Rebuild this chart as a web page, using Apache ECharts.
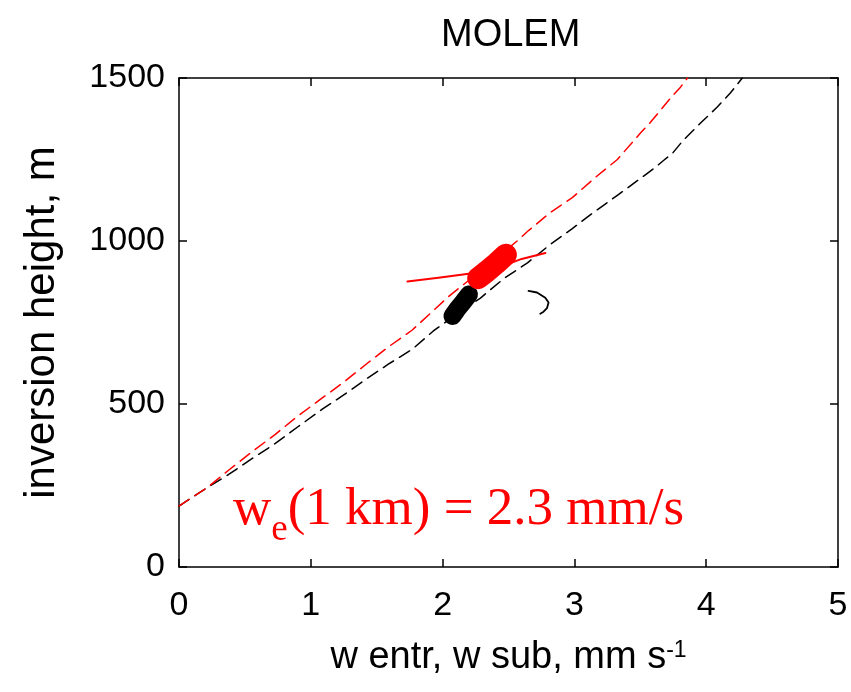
<!DOCTYPE html>
<html><head><meta charset="utf-8">
<script src="https://cdn.jsdelivr.net/npm/echarts@6/dist/echarts.min.js"></script>
<style>html,body{margin:0;padding:0;background:#fff}#c{width:851px;height:692px}</style>
</head><body><div id="c"></div>
<script>
const titleText = 'MOLEM';
const xAxisName = 'w entr, w sub, mm s';
const xAxisSup = '-1';
const yAxisName = 'inversion height, m';
const annotationMain = 'w';
const annotationSub = 'e';
const annotationRest = '(1 km) = 2.3 mm/s';
const xTickValues = [0, 1, 2, 3, 4, 5];
const yTickValues = [0, 500, 1000, 1500];

// black dashed curve
const blackDashX = [0, 0.2, 0.374, 0.556, 0.731, 0.905, 1.087, 1.247, 1.429, 1.588, 1.77, 1.93, 2.036, 2.287, 2.462, 2.644, 2.819, 2.984, 3.143, 3.326, 3.501, 3.615, 3.676, 3.744, 3.826, 3.955, 4.084, 4.183, 4.274];
const blackDashY = [187, 240, 283, 333, 379, 431, 484, 527, 579, 622, 668, 724, 755, 825, 884, 933, 990, 1038, 1087, 1140, 1192, 1226, 1247, 1269, 1309, 1361, 1411, 1454, 1500];
// red dashed curve
const redDashX = [0, 0.222, 0.374, 0.556, 0.731, 0.898, 1.072, 1.247, 1.429, 1.588, 1.77, 1.945, 2.043, 2.3, 2.568, 2.652, 2.819, 2.984, 3.159, 3.326, 3.386, 3.501, 3.577, 3.653, 3.729, 3.805, 3.858];
const redDashY = [187, 246, 296, 354, 407, 462, 514, 566, 625, 675, 727, 792, 829, 912, 1001, 1032, 1088, 1133, 1195, 1250, 1278, 1331, 1364, 1401, 1438, 1472, 1500];
// thin red solid traces
const redLeftX = [1.733, 1.968, 2.212, 2.28];
const redLeftY = [876, 887, 900, 905];
const redRightX = [2.45, 2.6, 2.78];
const redRightY = [922, 945, 963];
// black curl
const blackCurlX = [2.652, 2.716, 2.779, 2.804, 2.792, 2.766, 2.741];
const blackCurlY = [847, 842, 826, 811, 794, 783, 777];
// clusters
const blackBlobX = [2.075, 2.11, 2.16, 2.2];
const blackBlobY = [770, 790, 815, 836];
const redBlobX = [2.27, 2.33, 2.41, 2.48];
const redBlobY = [886, 905, 932, 958];

const zip = (xs, ys) => xs.map((x, i) => [x, ys[i]]);
const sans = '"Liberation Sans", Arial, Helvetica, sans-serif';
const serif = '"Liberation Serif", "Times New Roman", serif';

const chart = echarts.init(document.getElementById('c'), null, {renderer: 'canvas'});

function axisCommon(showLabels, margin) {
  return {
    axisLine: {show: true, onZero: false, lineStyle: {color: '#000', width: 1.5}},
    axisTick: {show: true, inside: true, length: 8, lineStyle: {color: '#000', width: 1.5}},
    splitLine: {show: false},
    axisLabel: {show: showLabels, color: '#000', fontFamily: sans, fontSize: 34, margin: margin || 8,
      formatter: function (v) { return String(v); }}
  };
}

function lineSeries(name, xs, ys, color, width, dash, extra) {
  return Object.assign({
    name: name, type: 'line', data: zip(xs, ys), showSymbol: false, symbol: 'none',
    silent: true, smooth: false, z: 3,
    lineStyle: {color: color, width: width, type: dash || 'solid', cap: 'round', join: 'round'}
  }, extra || {});
}

const option = {
  animation: false,
  backgroundColor: '#fff',
  title: {
    text: titleText, left: 436, top: 12,
    textStyle: {fontFamily: sans, fontSize: 38, fontWeight: 'normal', color: '#000'}
  },
  grid: {left: 179, right: 13, top: 78, bottom: 125, show: false},
  xAxis: [
    Object.assign(axisCommon(true, 22), {
      type: 'value', min: 0, max: 5, interval: 1, position: 'bottom',
      name: '{a|' + xAxisName + '}{s|' + xAxisSup + '}', nameLocation: 'middle', nameGap: 72,
      nameTextStyle: {
        rich: {
          a: {fontFamily: sans, fontSize: 38, color: '#000', lineHeight: 40, verticalAlign: 'top'},
          s: {fontFamily: sans, fontSize: 23, color: '#000', lineHeight: 24, verticalAlign: 'top'}
        }
      }
    }),
    Object.assign(axisCommon(false), {type: 'value', min: 0, max: 5, interval: 1, position: 'top'})
  ],
  yAxis: [
    Object.assign(axisCommon(true, 14), {
      type: 'value', min: 0, max: 1500, interval: 500, position: 'left',
      name: yAxisName, nameLocation: 'middle', nameGap: 116,
      nameTextStyle: {fontFamily: sans, fontSize: 42, color: '#000'}
    }),
    Object.assign(axisCommon(false), {type: 'value', min: 0, max: 1500, interval: 500, position: 'right'})
  ],
  graphic: [{
    type: 'text', left: 233, top: 484, silent: true,
    style: {
      text: '{m|' + annotationMain + '}{e|' + annotationSub + '}{m|' + annotationRest + '}',
      rich: {
        m: {fontFamily: serif, fontSize: 53, fill: '#ff0000', color: '#ff0000', lineHeight: 58, verticalAlign: 'top'},
        e: {fontFamily: serif, fontSize: 37, fill: '#ff0000', color: '#ff0000', lineHeight: 37, padding: [28, 0, 0, 0], verticalAlign: 'top'}
      }
    }
  }],
  series: [
    lineSeries('black dashed', blackDashX, blackDashY, '#000', 1.5, [12, 7]),
    lineSeries('red dashed', redDashX, redDashY, '#ff0000', 1.5, [12, 7]),
    lineSeries('red left', redLeftX, redLeftY, '#ff0000', 2),
    lineSeries('red right', redRightX, redRightY, '#ff0000', 2),
    lineSeries('black curl', blackCurlX, blackCurlY, '#000', 1.8),
    lineSeries('black blob', blackBlobX, blackBlobY, '#000', 18),
    lineSeries('red blob', redBlobX, redBlobY, '#ff0000', 22)
  ]
};
chart.setOption(option);
</script>
</body></html>
